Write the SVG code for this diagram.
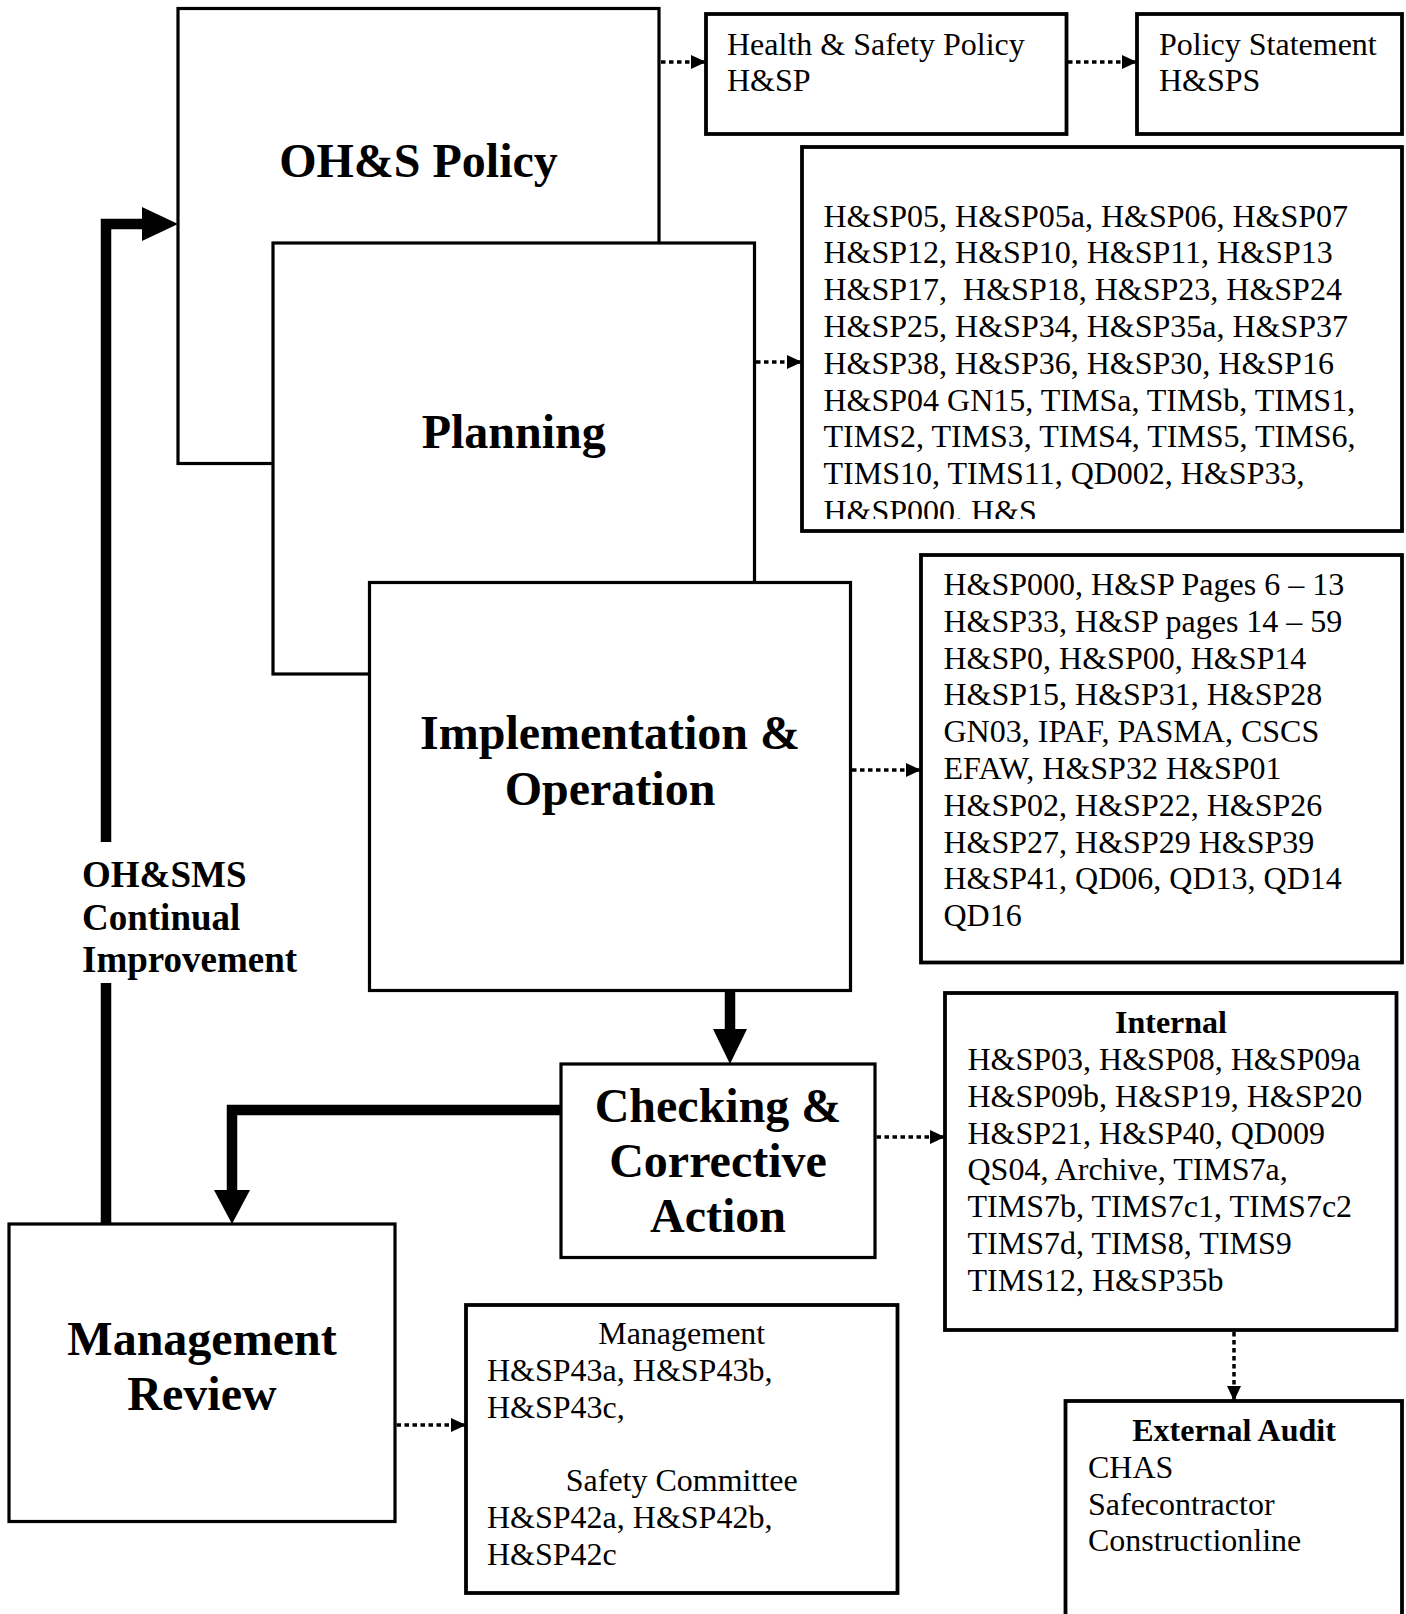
<svg xmlns="http://www.w3.org/2000/svg" width="1406" height="1614" viewBox="0 0 1406 1614">
<style>
.box{fill:#fff;stroke:#000;stroke-width:3.2}
.lbox{fill:#fff;stroke:#000;stroke-width:3.8}
.h{font-family:"Liberation Serif","Times New Roman",serif;font-weight:bold;font-size:48px;text-anchor:middle;fill:#000}
.t{font-family:"Liberation Serif","Times New Roman",serif;font-size:32px;fill:#000}
.b{font-weight:bold}
.c{text-anchor:middle}
.lab{font-family:"Liberation Serif","Times New Roman",serif;font-weight:bold;font-size:37px;fill:#000}
.thick{fill:none;stroke:#000;stroke-width:10.5;stroke-linejoin:miter}
.dot{fill:none;stroke:#000;stroke-width:3.5;stroke-dasharray:4.5 3.5}
</style>
<defs>
<marker id="ah" markerUnits="userSpaceOnUse" markerWidth="15" markerHeight="14" refX="15" refY="7" orient="auto"><path d="M0,0 L15,7 L0,14 Z" fill="#000"/></marker>
<clipPath id="clipPlan"><rect x="805" y="150" width="595" height="369"/></clipPath>
</defs>
<rect width="1406" height="1614" fill="#fff"/>

<g id="ohs-policy">
<rect class="box" x="178" y="8.5" width="481" height="455"/>
<text class="h" x="418.5" y="177">OH&amp;S Policy</text>
</g>
<g id="planning">
<rect class="box" x="273" y="243" width="481.5" height="431"/>
<text class="h" x="513.7" y="448">Planning</text>
</g>
<g id="implementation">
<rect class="box" x="369.5" y="582.5" width="481" height="408"/>
<text class="h" x="610" y="749">Implementation &amp;</text>
<text class="h" x="610" y="805">Operation</text>
</g>
<g id="checking">
<rect class="box" x="561" y="1064" width="314" height="193.5"/>
<text class="h" x="718" y="1122">Checking &amp;</text>
<text class="h" x="718" y="1176.5">Corrective</text>
<text class="h" x="718" y="1232">Action</text>
</g>
<g id="management-review">
<rect class="box" x="9" y="1224" width="386" height="297.5"/>
<text class="h" x="202" y="1355">Management</text>
<text class="h" x="202" y="1410">Review</text>
</g>
<g id="hs-policy">
<rect class="lbox" x="706" y="14" width="360.5" height="120"/>
<text class="t" x="727" y="55">Health &amp; Safety Policy</text>
<text class="t" x="727" y="91">H&amp;SP</text>
</g>
<g id="policy-statement">
<rect class="lbox" x="1137" y="14" width="265" height="120"/>
<text class="t" x="1159" y="55">Policy Statement</text>
<text class="t" x="1159" y="91">H&amp;SPS</text>
</g>
<g id="planning-docs">
<rect class="lbox" x="802" y="147" width="600" height="384"/>
<text class="t" clip-path="url(#clipPlan)">
<tspan x="823.5" y="226.5">H&amp;SP05, H&amp;SP05a, H&amp;SP06, H&amp;SP07</tspan>
<tspan x="823.5" y="263.3">H&amp;SP12, H&amp;SP10, H&amp;SP11, H&amp;SP13</tspan>
<tspan x="823.5" y="300.1">H&amp;SP17,&#160; H&amp;SP18, H&amp;SP23, H&amp;SP24</tspan>
<tspan x="823.5" y="336.9">H&amp;SP25, H&amp;SP34, H&amp;SP35a, H&amp;SP37</tspan>
<tspan x="823.5" y="373.7">H&amp;SP38, H&amp;SP36, H&amp;SP30, H&amp;SP16</tspan>
<tspan x="823.5" y="410.5">H&amp;SP04 GN15, TIMSa, TIMSb, TIMS1,</tspan>
<tspan x="823.5" y="447.3">TIMS2, TIMS3, TIMS4, TIMS5, TIMS6,</tspan>
<tspan x="823.5" y="484.1">TIMS10, TIMS11, QD002, H&amp;SP33,</tspan>
<tspan x="823.5" y="521.5">H&amp;SP000. H&amp;S</tspan>
</text>
</g>
<g id="implementation-docs">
<rect class="lbox" x="921" y="555" width="481" height="407.5"/>
<text class="t">
<tspan x="943.5" y="595">H&amp;SP000, H&amp;SP Pages 6 – 13</tspan>
<tspan x="943.5" y="631.8">H&amp;SP33, H&amp;SP pages 14 – 59</tspan>
<tspan x="943.5" y="668.6">H&amp;SP0, H&amp;SP00, H&amp;SP14</tspan>
<tspan x="943.5" y="705.4">H&amp;SP15, H&amp;SP31, H&amp;SP28</tspan>
<tspan x="943.5" y="742.2">GN03, IPAF, PASMA, CSCS</tspan>
<tspan x="943.5" y="779">EFAW, H&amp;SP32 H&amp;SP01</tspan>
<tspan x="943.5" y="815.8">H&amp;SP02, H&amp;SP22, H&amp;SP26</tspan>
<tspan x="943.5" y="852.6">H&amp;SP27, H&amp;SP29 H&amp;SP39</tspan>
<tspan x="943.5" y="889.4">H&amp;SP41, QD06, QD13, QD14</tspan>
<tspan x="943.5" y="926.2">QD16</tspan>
</text>
</g>
<g id="internal-audit">
<rect class="lbox" x="945" y="993" width="451.5" height="337"/>
<text class="t b c" x="1171" y="1033">Internal</text>
<text class="t">
<tspan x="967.5" y="1070">H&amp;SP03, H&amp;SP08, H&amp;SP09a</tspan>
<tspan x="967.5" y="1106.8">H&amp;SP09b, H&amp;SP19, H&amp;SP20</tspan>
<tspan x="967.5" y="1143.6">H&amp;SP21, H&amp;SP40, QD009</tspan>
<tspan x="967.5" y="1180.4">QS04, Archive, TIMS7a,</tspan>
<tspan x="967.5" y="1217.2">TIMS7b, TIMS7c1, TIMS7c2</tspan>
<tspan x="967.5" y="1254">TIMS7d, TIMS8, TIMS9</tspan>
<tspan x="967.5" y="1290.8">TIMS12, H&amp;SP35b</tspan>
</text>
</g>
<g id="external-audit">
<rect class="lbox" x="1065.5" y="1401" width="336.5" height="230"/>
<text class="t b c" x="1234" y="1441">External Audit</text>
<text class="t">
<tspan x="1088" y="1478">CHAS</tspan>
<tspan x="1088" y="1514.5">Safecontractor</tspan>
<tspan x="1088" y="1551">Constructionline</tspan>
</text>
</g>
<g id="review-docs">
<rect class="lbox" x="466" y="1305" width="431.5" height="288"/>
<text class="t c" x="681.7" y="1344">Management</text>
<text class="t">
<tspan x="487" y="1380.8">H&amp;SP43a, H&amp;SP43b,</tspan>
<tspan x="487" y="1417.6">H&amp;SP43c,</tspan>
</text>
<text class="t c" x="681.7" y="1491.2">Safety Committee</text>
<text class="t">
<tspan x="487" y="1528">H&amp;SP42a, H&amp;SP42b,</tspan>
<tspan x="487" y="1564.8">H&amp;SP42c</tspan>
</text>
</g>
<g id="continual-improvement-label">
<text class="lab" x="82" y="887">OH&amp;SMS</text>
<text class="lab" x="82" y="929.5">Continual</text>
<text class="lab" x="82" y="971.5">Improvement</text>
</g>

<g id="connectors">
<polyline class="thick" points="106,1224 106,983"/>
<polyline class="thick" points="106,842 106,224 146,224"/>
<polygon points="142,207 178,224 142,241" fill="#000"/>
<line class="thick" x1="730" y1="991" x2="730" y2="1032"/>
<polygon points="713,1029 747,1029 730,1064" fill="#000"/>
<polyline class="thick" points="561,1110 232,1110 232,1193"/>
<polygon points="214,1190 250,1190 232,1224" fill="#000"/>
<line class="dot" x1="661" y1="62" x2="706" y2="62" marker-end="url(#ah)"/>
<line class="dot" x1="1068" y1="62" x2="1137" y2="62" marker-end="url(#ah)"/>
<line class="dot" x1="756" y1="362" x2="802" y2="362" marker-end="url(#ah)"/>
<line class="dot" x1="852" y1="770" x2="921" y2="770" marker-end="url(#ah)"/>
<line class="dot" x1="876.5" y1="1137" x2="945" y2="1137" marker-end="url(#ah)"/>
<line class="dot" x1="1234" y1="1332" x2="1234" y2="1401" marker-end="url(#ah)"/>
<line class="dot" x1="396.5" y1="1425" x2="466" y2="1425" marker-end="url(#ah)"/>
</g>
</svg>
